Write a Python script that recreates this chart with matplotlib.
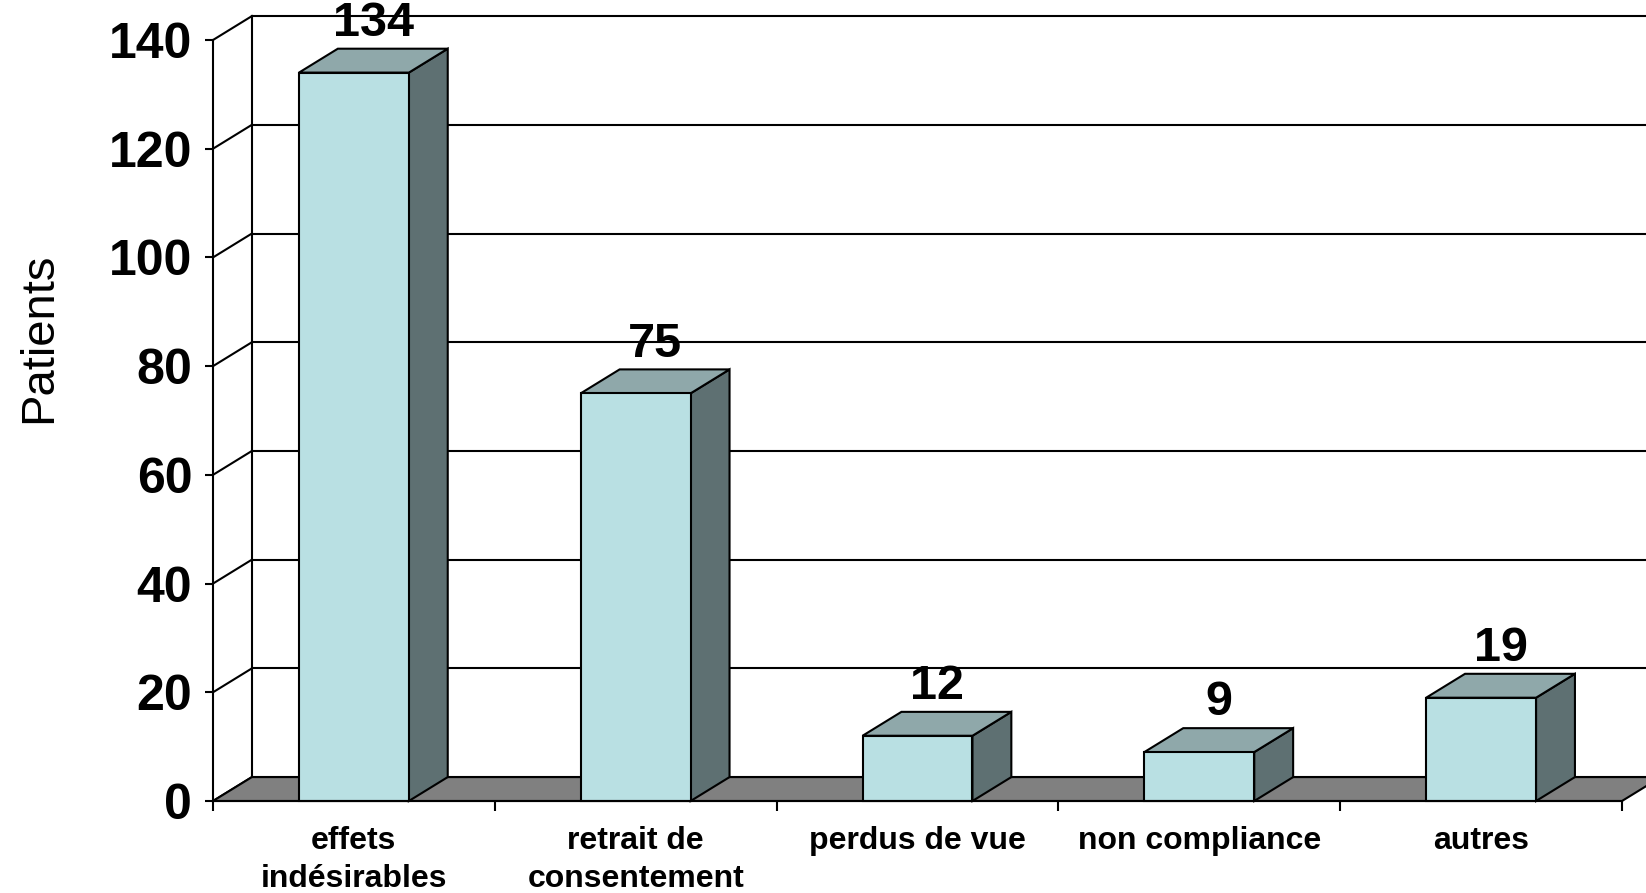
import matplotlib
matplotlib.use("Agg")
import matplotlib.pyplot as plt
from matplotlib.patches import Polygon, Rectangle

categories = ["effets\nindésirables", "retrait de\nconsentement", "perdus de vue",
              "non compliance", "autres"]
patients = [134, 75, 12, 9, 19]
y_ticks = [0, 20, 40, 60, 80, 100, 120, 140]

plt.rcParams['font.family'] = ['Liberation Sans', 'DejaVu Sans']

front_col = '#B9E0E3'
top_col = '#8FA8AA'
side_col = '#5E7072'
floor_col = '#808080'
lw = 1.5

# 3D depth offset in data units
dx, dy = 0.138, 4.4
bar_w = 0.39

fig = plt.figure(figsize=(16.46, 8.93), dpi=100)
ax = fig.add_axes([213 / 1646, 92 / 893, (1622 - 213) / 1646, (801 - 40) / 893])
ax.set_xlim(0, len(categories))
ax.set_ylim(0, 140)

n = len(categories)

# back wall gridlines and side wall diagonals
for v in y_ticks:
    ax.plot([dx, n + dx], [v + dy, v + dy], color='black', lw=lw, zorder=1, clip_on=False)
    ax.plot([0, dx], [v, v + dy], color='black', lw=lw, zorder=1, clip_on=False)
ax.plot([dx, dx], [dy, 140 + dy], color='black', lw=lw, zorder=1, clip_on=False)

# floor
ax.add_patch(Polygon([(0, 0), (n, 0), (n + dx, dy), (dx, dy)], closed=True,
                     facecolor=floor_col, edgecolor='black', lw=lw, zorder=2, clip_on=False))

# bars
for i, v in enumerate(patients):
    x0 = i + 0.5 - bar_w / 2
    x1 = x0 + bar_w
    ax.add_patch(Polygon([(x1, 0), (x1 + dx, dy), (x1 + dx, v + dy), (x1, v)], closed=True,
                         facecolor=side_col, edgecolor='black', lw=lw, zorder=3, clip_on=False))
    ax.add_patch(Polygon([(x0, v), (x1, v), (x1 + dx, v + dy), (x0 + dx, v + dy)], closed=True,
                         facecolor=top_col, edgecolor='black', lw=lw, zorder=3, clip_on=False))
    ax.add_patch(Rectangle((x0, 0), bar_w, v, facecolor=front_col, edgecolor='black',
                           lw=lw, zorder=4, clip_on=False))
    ax.text(i + 0.5 + dx / 2, v + dy + 0.5, str(v), ha='center', va='bottom',
            fontsize=35, fontweight='bold', zorder=5, clip_on=False)

# axes styling
for s in ['top', 'right']:
    ax.spines[s].set_visible(False)
for s in ['left', 'bottom']:
    ax.spines[s].set_linewidth(lw)
    ax.spines[s].set_zorder(6)

ax.set_yticks(y_ticks)
ax.set_yticklabels([str(t) for t in y_ticks], fontsize=36, fontweight='bold')
ax.tick_params(axis='y', length=6, width=lw, pad=9)

ax.set_xticks(range(n + 1))
ax.set_xticklabels([])
ax.tick_params(axis='x', which='major', length=7.5, width=lw)
ax.set_xticks([i + 0.5 for i in range(n)], minor=True)
ax.set_xticklabels(categories, minor=True, fontsize=23, fontweight='bold', linespacing=1.36)
ax.tick_params(axis='x', which='minor', length=0, pad=18)

ax.set_facecolor('none')
fig.text(39 / 1646, 1 - 338 / 893, 'Patients', rotation=90, ha='center', va='center',
         fontsize=34)

fig.savefig('out.png', dpi=100)
